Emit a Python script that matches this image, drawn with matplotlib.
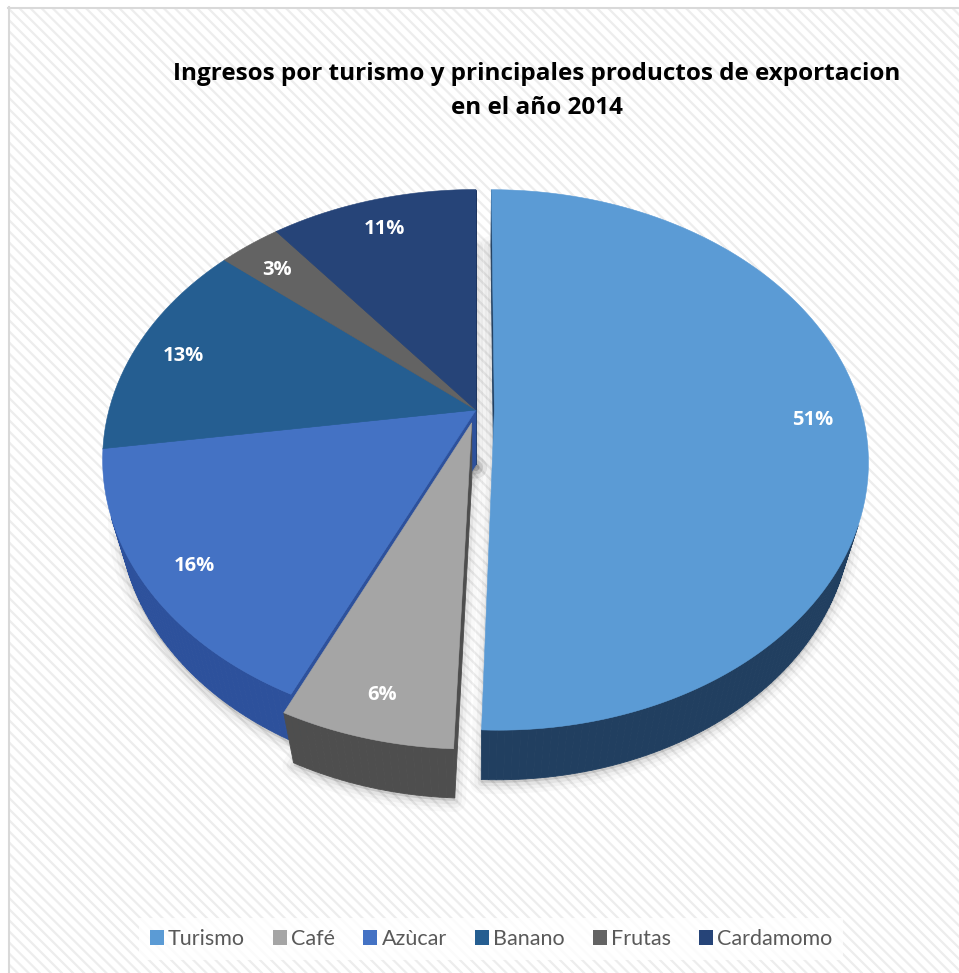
import numpy as np
import matplotlib.pyplot as plt
from matplotlib.patches import Polygon, Rectangle, Patch

# ── data ──────────────────────────────────────────────────────────────────────
TITLE = "Ingresos por turismo y principales productos de exportacion\nen el año 2014"
labels = ["Turismo", "Café", "Azùcar", "Banano", "Frutas", "Cardamomo"]
values = [50.6, 6.3, 15.8, 13.4, 3.2, 10.7]   # shares (%)

# ── style ─────────────────────────────────────────────────────────────────────
top_colors = ["#5B9BD5", "#A5A5A5", "#4472C4", "#255E91", "#636363", "#264478"]
side_colors = ["#213F60", "#4E4E4E", "#2D519C", "#1B4469", "#404040", "#1B3158"]
explode = [0.05, 0.05, 0, 0, 0, 0]

PHI = np.radians(47.6)      # camera elevation
DIST = 3.83                 # camera distance (pie radius = 1)
THICK = 0.22                # pie thickness
RX_PX = 367                 # horizontal radius in pixels
CX, CY = 476, 410           # pixel position of the pie centre (top face)
LABEL_R = 0.87
LABEL_H = 0.9 * THICK

cphi, sphi = np.cos(PHI), np.sin(PHI)
CAM = np.array([0.0, DIST * cphi, DIST * sphi])
S = RX_PX * (DIST - THICK * sphi)
Y0 = THICK * cphi / (DIST - THICK * sphi)


def depth(u, v, h):
    return DIST - v * cphi - h * sphi


def proj(u, v, h):
    u, v, h = np.asarray(u, float), np.asarray(v, float), np.asarray(h, float)
    zc = depth(u, v, h)
    X = u / zc
    Y = (h * cphi - v * sphi) / zc
    return CX + S * X, CY - S * (Y - Y0)


def visible(p, n):
    return np.dot(CAM - p, n) > 0


fig = plt.figure(figsize=(9.59, 9.73), dpi=100, facecolor="white")
ax = fig.add_axes([0, 0, 1, 1])
ax.set_xlim(0, 959)
ax.set_ylim(973, 0)
ax.axis("off")

# background panel with diagonal texture
plt.rcParams["hatch.linewidth"] = 1.6
ax.add_patch(Rectangle((8, 7), 960, 980, facecolor="white", edgecolor="#EDEDED",
                       hatch="\\\\\\", lw=0, zorder=0))
ax.plot([8.5, 8.5], [7, 973], color="#D9D9D9", lw=1.5, zorder=1)
ax.plot([8, 959], [7.5, 7.5], color="#D9D9D9", lw=1.5, zorder=1)

# ── geometry ──────────────────────────────────────────────────────────────────
total = float(sum(values))
bounds = np.concatenate([[0], np.cumsum(values)]) / total * 2 * np.pi
walls = []   # (depth, xy, color)
tops = []
shadows = []
label_pos = []
for i in range(len(values)):
    t0, t1 = bounds[i], bounds[i + 1]
    tm = 0.5 * (t0 + t1)
    ou, ov = explode[i] * np.sin(tm), -explode[i] * np.cos(tm)
    th = np.linspace(t0, t1, max(4, int(np.degrees(t1 - t0)) + 1))
    ru, rv = np.sin(th) + ou, -np.cos(th) + ov

    # outer wall strips
    for k in range(len(th) - 1):
        mid = 0.5 * (th[k] + th[k + 1])
        n = np.array([np.sin(mid), -np.cos(mid), 0])
        p = np.array([ou + np.sin(mid), ov - np.cos(mid), THICK / 2])
        if not visible(p, n):
            continue
        x, y = proj([ru[k], ru[k + 1], ru[k + 1], ru[k]],
                    [rv[k], rv[k + 1], rv[k + 1], rv[k]],
                    [THICK, THICK, 0, 0])
        walls.append((depth(*p), np.column_stack([x, y]), side_colors[i]))

    # radial walls
    for t, sgn in ((t0, -1), (t1, 1)):
        n = sgn * np.array([np.cos(t), np.sin(t), 0])
        eu, ev = np.sin(t), -np.cos(t)
        p = np.array([ou + 0.5 * eu, ov + 0.5 * ev, THICK / 2])
        if not visible(p, n):
            continue
        x, y = proj([ou, ou + eu, ou + eu, ou], [ov, ov + ev, ov + ev, ov],
                    [THICK, THICK, 0, 0])
        walls.append((depth(*p) + 0.05, np.column_stack([x, y]), side_colors[i]))

    # top face and floor outline (for the soft shadow)
    x, y = proj(np.concatenate([[ou], ru]), np.concatenate([[ov], rv]),
                np.full(len(th) + 1, THICK))
    tops.append((np.column_stack([x, y]), top_colors[i]))
    sx, sy = proj(np.concatenate([[ou], ru]), np.concatenate([[ov], rv]),
                  np.zeros(len(th) + 1))
    shadows.append(np.column_stack([sx, sy]))
    lx, ly = proj(ou + LABEL_R * np.sin(tm), ov - LABEL_R * np.cos(tm), LABEL_H)
    label_pos.append((float(lx), float(ly)))

for xy in shadows:
    for lw, a in ((16, 0.025), (10, 0.035), (5, 0.05)):
        ax.add_patch(Polygon(xy + [0, 3], closed=True, facecolor=(0, 0, 0, a),
                             edgecolor=(0, 0, 0, a), lw=lw, joinstyle="round",
                             zorder=1.5))

walls.sort(key=lambda w: -w[0])
for _, xy, c in walls:
    ax.add_patch(Polygon(xy, closed=True, facecolor=c, edgecolor=c, lw=0.6, zorder=2))
for xy, c in tops:
    ax.add_patch(Polygon(xy, closed=True, facecolor=c, edgecolor=c, lw=0.4, zorder=3))

for (lx, ly), v in zip(label_pos, values):
    ax.text(lx, ly, f"{v / total * 100:.0f}%", color="white", fontsize=14.5,
            fontweight="bold", family="Open Sans", ha="center", va="center", zorder=5)

# ── title ─────────────────────────────────────────────────────────────────────
ax.text(537, 91, TITLE, ha="center", va="center", fontsize=17.5, fontweight="bold",
        family="Open Sans", color="black", linespacing=1.5, zorder=5)

# ── legend ────────────────────────────────────────────────────────────────────
handles = [Patch(facecolor=c, edgecolor="none") for c in top_colors]
leg = fig.legend(handles, labels, loc="center", bbox_to_anchor=(491 / 959, 1 - 939 / 973),
                 ncol=6, frameon=True, fancybox=False, handlelength=0.65,
                 handleheight=0.65, handletextpad=0.2, columnspacing=1.3,
                 prop={"family": "Lato", "size": 15.5}, borderpad=0.5)
leg.get_frame().set_facecolor("white")
leg.get_frame().set_edgecolor("none")
for t in leg.get_texts():
    t.set_color("#595959")

fig.savefig("out.png", dpi=100, facecolor="white")
